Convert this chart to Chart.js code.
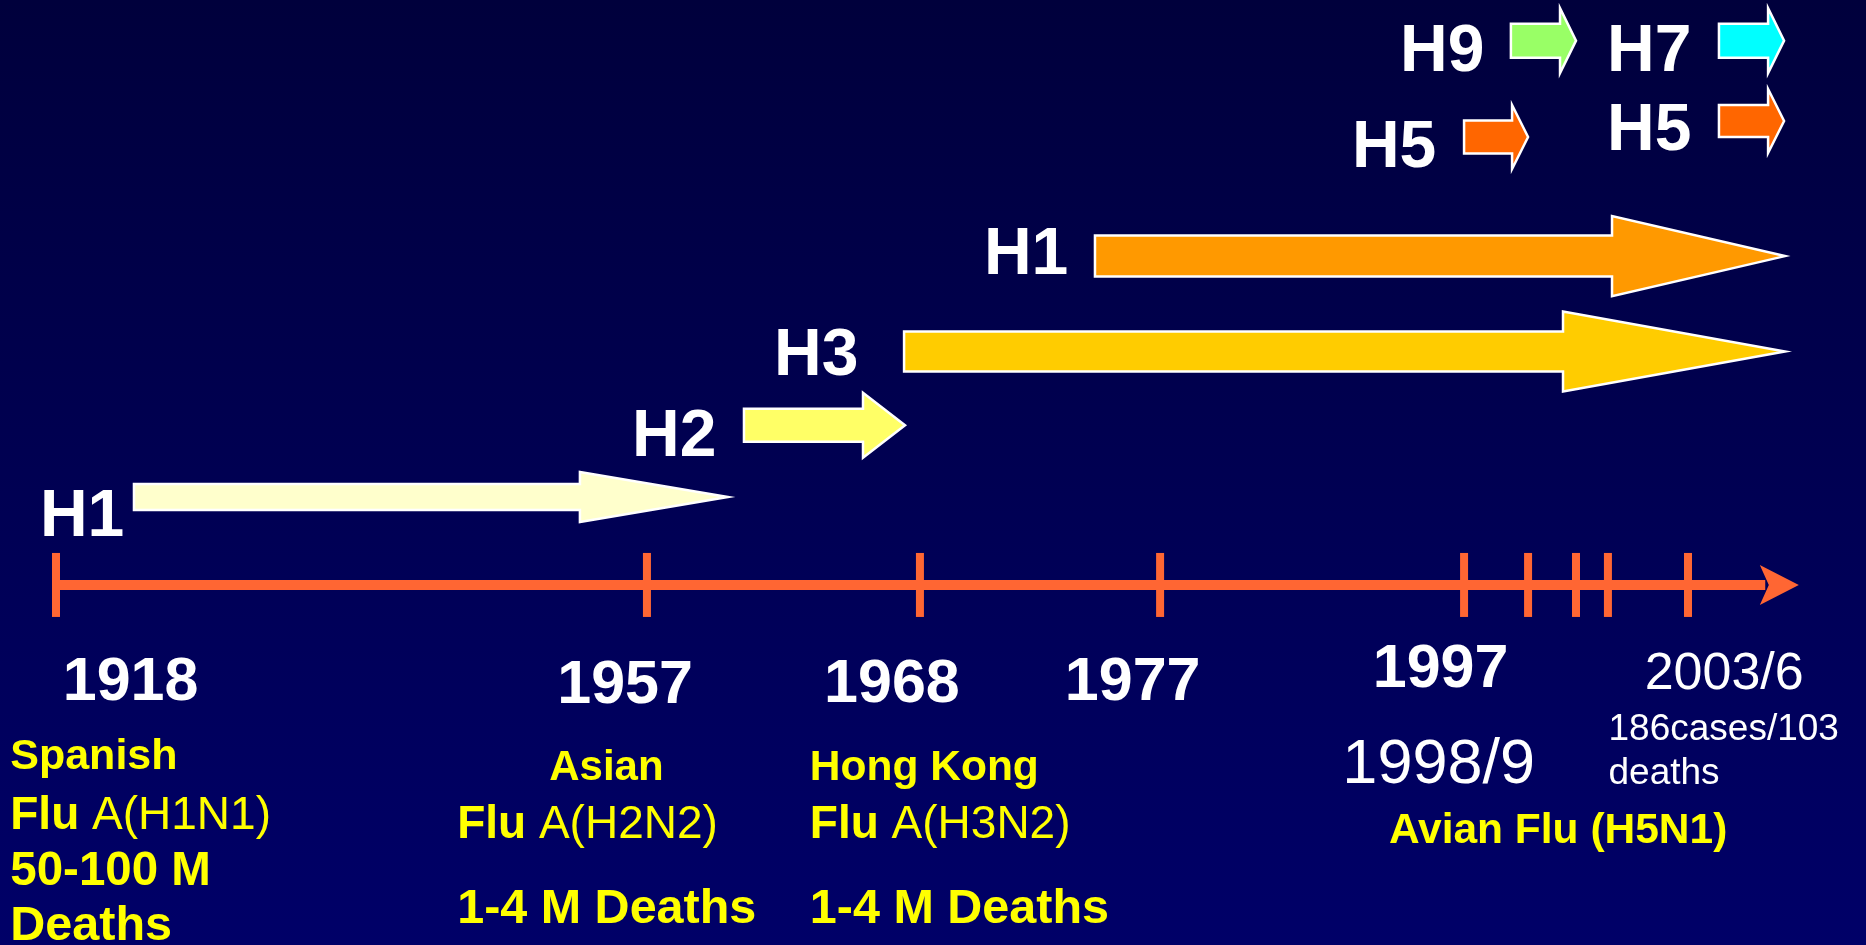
<!DOCTYPE html>
<html><head><meta charset="utf-8">
<script src="https://cdn.jsdelivr.net/npm/chart.js@4.4.1/dist/chart.umd.min.js"></script>
<style>html,body{margin:0;padding:0;background:#000050;overflow:hidden}canvas{display:block}</style>
</head><body>
<div style="width:1866px;height:945px"><canvas id="c" width="1866" height="945"></canvas></div>
<script>
// ---- data (x: position along the timeline, 0-100; y: lane height, 0-100) ----
const timelineTicks = [3.0, 34.67, 49.30, 62.17, 78.46, 81.89, 84.46, 86.17, 90.46];
const timelineLane = 38.1;
const timelineStart = 3.0;
const timelineEnd = 96.4;

const subtypes    = ['H1', 'H2', 'H3', 'H1', 'H5', 'H9', 'H5', 'H7'];
const arrowStart  = [7.18, 39.87, 48.45, 58.68, 78.46, 80.97, 92.12, 92.12];
const arrowEnd    = [39.01, 48.50, 95.66, 95.66, 81.89, 84.46, 95.61, 95.61];
const arrowLane   = [47.4, 55.0, 62.8, 72.9, 85.5, 95.7, 87.2, 95.7];

const yearLabels  = ['1918', '1957', '1968', '1977', '1997'];

// ---- styles & annotation placement ----
const arrowColors = ['#FFFFCC', '#FFFF66', '#FFCC00', '#FF9900', '#FF6600', '#99FF66', '#FF6600', '#00FFFF'];
const shaftHalf   = [13, 16.5, 20, 20.5, 16.5, 17, 16, 17];
const headHalf    = [25, 32.5, 40, 40, 32, 32.5, 32, 32.5];
const headLen     = [148, 42, 222, 173, 16, 16, 16, 16];
const subtypePos  = [[2.14, 43.3], [33.87, 51.7], [41.48, 60.3], [52.73, 71.0], [72.45, 82.3], [75.03, 92.5], [86.12, 84.1], [86.12, 92.5]];
const yearPos     = [[7.0, 25.9], [33.5, 25.6], [47.8, 25.7], [60.7, 25.9], [77.2, 27.3]];

const FF = '"Liberation Sans", Arial, Helvetica, sans-serif';
const W = '#FFFFFF', Y = '#FFFF00';
const notes = [
  {segs: [['2003/6', 52, false]], x: 92.4, y: 27.1, align: 'center', color: W},
  {segs: [['1998/9', 63, false]], x: 77.1, y: 17.1, align: 'center', color: W},
  {segs: [['186cases/103', 37, false]], x: 86.2, y: 21.7, align: 'left', color: W},
  {segs: [['deaths', 37, false]], x: 86.2, y: 17.05, align: 'left', color: W},
  {segs: [['Spanish', 43, true]], x: 0.55, y: 18.6, align: 'left', color: Y},
  {segs: [['Flu ', 46, true], ['A(H1N1)', 46, false]], x: 0.55, y: 12.3, align: 'left', color: Y},
  {segs: [['50-100 M', 47.5, true]], x: 0.55, y: 6.35, align: 'left', color: Y},
  {segs: [['Deaths', 48.5, true]], x: 0.55, y: 0.55, align: 'left', color: Y},
  {segs: [['Asian', 42, true]], x: 32.5, y: 17.5, align: 'center', color: Y},
  {segs: [['Flu ', 46, true], ['A(H2N2)', 46, false]], x: 24.5, y: 11.3, align: 'left', color: Y},
  {segs: [['1-4 M Deaths', 48.5, true]], x: 24.5, y: 2.35, align: 'left', color: Y},
  {segs: [['Hong Kong', 42.5, true]], x: 43.4, y: 17.5, align: 'left', color: Y},
  {segs: [['Flu ', 46, true], ['A(H3N2)', 46, false]], x: 43.4, y: 11.3, align: 'left', color: Y},
  {segs: [['1-4 M Deaths', 48.5, true]], x: 43.4, y: 2.35, align: 'left', color: Y},
  {segs: [['Avian Flu (H5N1)', 42.5, true]], x: 83.5, y: 10.8, align: 'center', color: Y}
];

function font(size, bold) { return (bold ? 'bold ' : '') + size + 'px ' + FF; }

function drawRich(ctx, segs, px, py, align, color) {
  let total = 0;
  segs.forEach(s => { ctx.font = font(s[1], s[2]); total += ctx.measureText(s[0]).width; });
  let x = align === 'center' ? px - total / 2 : (align === 'right' ? px - total : px);
  ctx.fillStyle = color;
  ctx.textAlign = 'left';
  ctx.textBaseline = 'alphabetic';
  segs.forEach(s => { ctx.font = font(s[1], s[2]); ctx.fillText(s[0], x, py); x += ctx.measureText(s[0]).width; });
}

const bgPlugin = {
  id: 'bg',
  beforeDraw(chart) {
    const {ctx, width, height} = chart;
    const g = ctx.createLinearGradient(0, 0, 0, height);
    g.addColorStop(0, '#00003C');
    g.addColorStop(1, '#000068');
    ctx.save(); ctx.fillStyle = g; ctx.fillRect(0, 0, width, height); ctx.restore();
  }
};

const arrowPlugin = {
  id: 'arrows',
  afterDatasetsDraw(chart) {
    const {ctx} = chart;
    const xs = chart.scales.x, ys = chart.scales.y;
    ctx.save();
    // timeline arrow head
    const ty = ys.getPixelForValue(timelineLane);
    const tx = xs.getPixelForValue(timelineEnd);
    ctx.fillStyle = '#FF6633';
    ctx.beginPath();
    ctx.moveTo(tx, ty);
    ctx.lineTo(tx - 39, ty - 20);
    ctx.lineTo(tx - 30, ty);
    ctx.lineTo(tx - 39, ty + 20);
    ctx.closePath();
    ctx.fill();
    // subtype arrows
    subtypes.forEach((name, i) => {
      const x0 = xs.getPixelForValue(arrowStart[i]);
      const x1 = xs.getPixelForValue(arrowEnd[i]);
      const yc = ys.getPixelForValue(arrowLane[i]);
      const sh = shaftHalf[i], hh = headHalf[i], hl = headLen[i];
      ctx.beginPath();
      ctx.moveTo(x0, yc - sh);
      ctx.lineTo(x1 - hl, yc - sh);
      ctx.lineTo(x1 - hl, yc - hh);
      ctx.lineTo(x1, yc);
      ctx.lineTo(x1 - hl, yc + hh);
      ctx.lineTo(x1 - hl, yc + sh);
      ctx.lineTo(x0, yc + sh);
      ctx.closePath();
      ctx.fillStyle = arrowColors[i];
      ctx.fill();
      ctx.lineWidth = 2.5;
      ctx.lineJoin = 'miter';
      ctx.strokeStyle = '#FFFFFF';
      ctx.stroke();
    });
    ctx.restore();
  },
  afterDraw(chart) {
    const {ctx} = chart;
    const xs = chart.scales.x, ys = chart.scales.y;
    ctx.save();
    subtypes.forEach((name, i) => {
      drawRich(ctx, [[name, 66, true]], xs.getPixelForValue(subtypePos[i][0]), ys.getPixelForValue(subtypePos[i][1]), 'left', W);
    });
    yearLabels.forEach((t, i) => {
      drawRich(ctx, [[t, 61, true]], xs.getPixelForValue(yearPos[i][0]), ys.getPixelForValue(yearPos[i][1]), 'center', W);
    });
    notes.forEach(n => {
      drawRich(ctx, n.segs, xs.getPixelForValue(n.x), ys.getPixelForValue(n.y), n.align, n.color);
    });
    ctx.restore();
  }
};

new Chart(document.getElementById('c'), {
  type: 'line',
  data: {
    datasets: [
      {
        label: 'timeline',
        data: [{x: timelineStart, y: timelineLane}, {x: timelineEnd - 1.8, y: timelineLane}],
        borderColor: '#FF6633', borderWidth: 10, pointRadius: 0, borderCapStyle: 'butt', clip: false
      },
      {
        type: 'scatter',
        label: 'ticks',
        data: timelineTicks.map(x => ({x: x, y: timelineLane})),
        pointStyle: 'line', rotation: 90, pointRadius: 32, borderWidth: 8,
        borderColor: '#FF6633', backgroundColor: '#FF6633', showLine: false, clip: false
      }
    ]
  },
  options: {
    responsive: false,
    animation: false,
    devicePixelRatio: 1,
    layout: {padding: 0, autoPadding: false},
    events: [],
    scales: {
      x: {type: 'linear', min: 0, max: 100, display: false},
      y: {type: 'linear', min: 0, max: 100, display: false}
    },
    plugins: {legend: {display: false}, tooltip: {enabled: false}}
  },
  plugins: [bgPlugin, arrowPlugin]
});
</script>
</body></html>
